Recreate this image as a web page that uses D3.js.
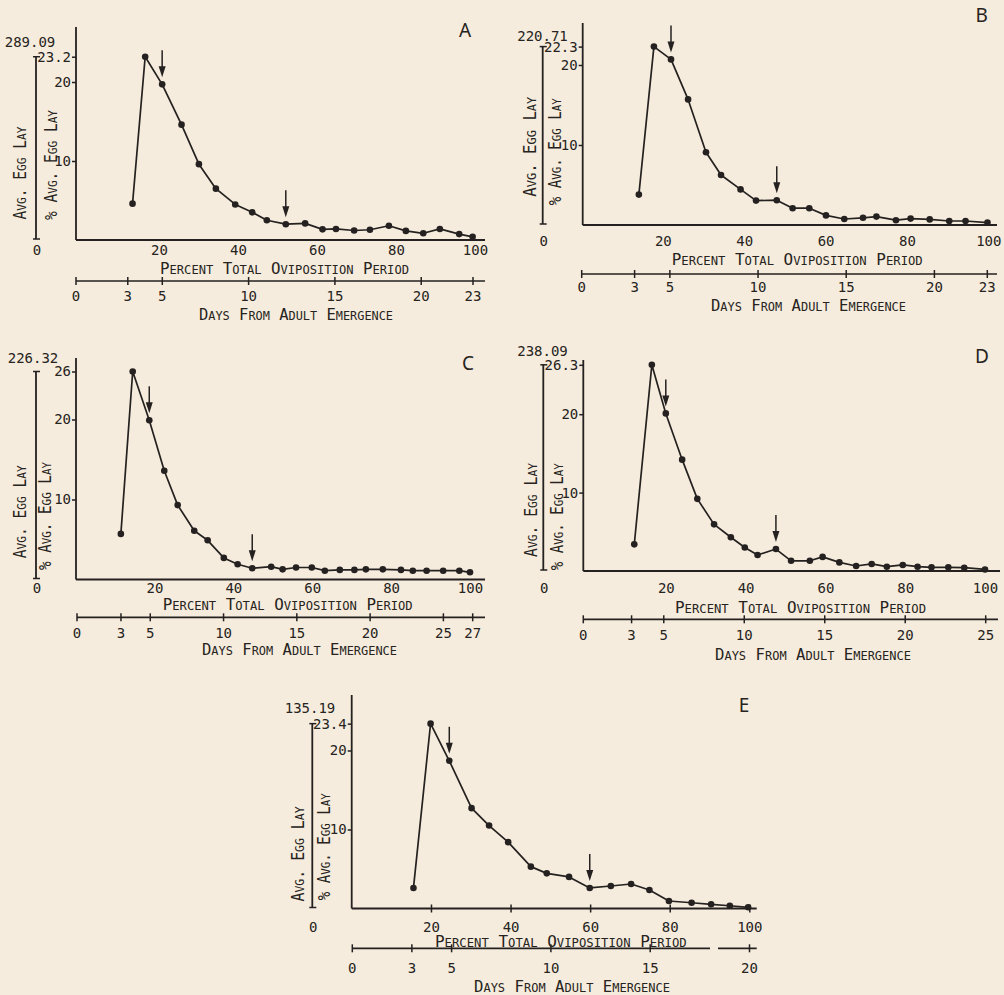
<!DOCTYPE html>
<html>
<head>
<meta charset="utf-8">
<script src="https://cdn.jsdelivr.net/npm/d3@7"></script>
<style>
body { margin: 0; background: #f5ecdd; }
svg { display: block; }
text { font-family: "DejaVu Sans Mono", monospace; fill: #262320; }
</style>
</head>
<body>
<script>
// values (percent of oviposition period, % avg egg lay)
const panelNames = ["A", "B", "C", "D", "E"];
const totals = [289.09, 220.71, 226.32, 238.09, 135.19];
const peaks = [23.2, 22.3, 26, 26.3, 23.4];
const dayMax = [23, 23, 27, 25, 20];

const pctA = [13.3,16.5,20.8,25.7,30.1,34.4,39.3,43.6,47.3,52.1,57.0,61.4,64.8,69.4,73.4,78.2,82.5,86.9,91.1,96.0,99.4];
const valA = [4.6,23.2,19.7,14.6,9.6,6.5,4.5,3.5,2.5,2.0,2.1,1.35,1.4,1.2,1.3,1.8,1.15,0.85,1.4,0.75,0.4];

const pctB = [14.1,17.8,22.0,26.2,30.6,34.3,39.1,42.9,48.0,51.9,56.0,60.1,64.6,69.2,72.5,77.3,80.9,85.6,90.4,94.4,99.8];
const valB = [3.8,22.3,20.7,15.7,9.1,6.25,4.45,3.05,3.1,2.1,2.1,1.2,0.75,0.9,1.05,0.6,0.8,0.7,0.5,0.5,0.3];

const pctC = [11.5,14.5,18.7,22.5,25.9,30.1,33.5,37.6,41.1,44.8,49.6,52.5,55.9,59.9,63.2,67.0,70.7,73.6,77.9,82.5,85.5,89.0,93.2,97.3,100];
const valC = [5.7,26,19.9,13.6,9.3,6.1,4.9,2.7,1.9,1.4,1.6,1.27,1.5,1.5,1.1,1.2,1.2,1.27,1.27,1.2,1.1,1.1,1.1,1.1,0.9];

const pctD = [12.1,16.5,20.0,24.1,27.9,32.1,36.3,39.8,43.0,47.6,51.4,56.1,59.3,63.5,67.7,71.6,75.4,79.4,83.1,86.6,90.8,94.8,100];
const valD = [3.4,26.3,20.1,14.2,9.2,5.95,4.3,3.0,2.04,2.8,1.3,1.3,1.8,1.1,0.64,0.9,0.55,0.77,0.55,0.47,0.47,0.42,0.2];

const pctE = [15.6,19.9,24.6,30.2,34.6,39.4,45.1,49.1,54.7,59.9,65.2,70.3,74.9,79.8,85.5,90.4,95.1,99.7];
const valE = [2.6,23.4,18.7,12.7,10.5,8.4,5.3,4.45,4.0,2.6,2.85,3.1,2.34,0.95,0.73,0.53,0.35,0.15];

const pcts = [pctA, pctB, pctC, pctD, pctE];
const vals = [valA, valB, valC, valD, valE];

// which points carry an arrow
const arrowIdx = [[2, 9], [2, 8], [2, 9], [2, 9], [2, 9]];

const pctTicks = [20, 40, 60, 80, 100];
const dayTicks = [
  [0, 3, 5, 10, 15, 20, 23],
  [0, 3, 5, 10, 15, 20, 23],
  [0, 3, 5, 10, 15, 20, 25, 27],
  [0, 3, 5, 10, 15, 20, 25],
  [0, 3, 5, 10, 15, 20]
];

// page placement of each panel
const layout = [
  {axisX: 76, x0: 80, x100: 475, xEnd: 485, y0: 240, ppu: 7.9, yTop: 27, leftX: 36,
   pctLab: 255, pctTitle: [160, 409, 274], daysY: 281, d0: 76, dMax: 473, dEnd: 485,
   dayLab: 301, daysTitle: [199, 393, 320], letter: [465, 37],
   rotA: [20, 173, 93], rotB: [51, 165, 110], totalLab: [30, 47]},
  {axisX: 582.7, x0: 581.5, x100: 988.3, xEnd: 997, y0: 225, ppu: 8, yTop: 23, leftX: 542.7,
   pctLab: 246, pctTitle: [671.7, 922.7, 265], daysY: 274, d0: 581.7, dMax: 987.3, dEnd: 997,
   dayLab: 291.7, daysTitle: [711, 906, 310.7], letter: [981.7, 21.7],
   rotA: [530, 146.7, 100], rotB: [555, 151.7, 107], totalLab: [542.5, 40.7]},
  {axisX: 76, x0: 75.5, x100: 470, xEnd: 485, y0: 579.5, ppu: 8, yTop: 358, leftX: 36,
   pctLab: 593, pctTitle: [162.7, 412.7, 610], daysY: 617.3, d0: 77, dMax: 472.7, dEnd: 485,
   dayLab: 638.3, daysTitle: [202, 397, 655], letter: [468, 370],
   rotA: [19.5, 511.7, 93], rotB: [45.3, 516, 108], totalLab: [33, 363.3]},
  {axisX: 583.3, x0: 586, x100: 985, xEnd: 1000, y0: 571, ppu: 7.84, yTop: 360, leftX: 543.3,
   pctLab: 593.3, pctTitle: [675, 926, 613.3], daysY: 619.3, d0: 583.3, dMax: 985.7, dEnd: 998,
   dayLab: 640, daysTitle: [715, 911, 660], letter: [982, 363.3],
   rotA: [530.7, 510, 94], rotB: [556.7, 516.7, 107], totalLab: [542.5, 356]},
  {axisX: 351.7, x0: 351.4, x100: 749.3, xEnd: 756.7, y0: 908.5, ppu: 7.9, yTop: 695, leftX: 312.3,
   pctLab: 931.7, pctTitle: [435, 686.7, 947.3], daysY: 948.3, d0: 352.3, dMax: 749.5, dEnd: 756.7,
   dayLab: 973.3, daysTitle: [474, 670, 991.5], letter: [744, 711.7],
   rotA: [298.3, 854, 95], rotB: [324, 846.7, 107], totalLab: [310, 712.7],
   pctTickMarks: true, daysBreak: [710, 718]}
];

const ink = "#242120";

const svg = d3.select("body").append("svg")
  .attr("width", 1004)
  .attr("height", 995);

svg.append("rect")
  .attr("width", 1004)
  .attr("height", 995)
  .attr("fill", "#f5ecdd");

// small caps by hand: first letter of each word full size, the rest smaller
function smallCaps(text, str, big, small) {
  let runs = [];
  let prev = " ";
  for (const ch of str) {
    const isBig = !/[a-z]/.test(ch) || prev === " ";
    const size = isBig ? big : small;
    if (runs.length && runs[runs.length - 1].size === size) runs[runs.length - 1].s += ch.toUpperCase();
    else runs.push({size: size, s: ch.toUpperCase()});
    prev = ch;
  }
  text.selectAll("tspan")
    .data(runs)
    .enter()
    .append("tspan")
    .style("font-size", d => d.size + "px")
    .text(d => d.s);
  return text;
}

panelNames.forEach((name, i) => {
  const L = layout[i];
  const g = svg.append("g");
  const peak = peaks[i];

  const x = d3.scaleLinear().domain([0, 100]).range([L.x0, L.x100]);
  const y = d3.scaleLinear().domain([0, peak]).range([L.y0, L.y0 - L.ppu * peak]);
  const days = d3.scaleLinear().domain([0, dayMax[i]]).range([L.d0, L.dMax]);

  // % avg egg lay axis
  const yAxis = g.append("g")
    .attr("transform", `translate(${L.axisX},0)`)
    .call(d3.axisLeft(y).tickValues([10, 20, peak]).tickSize(4).tickPadding(1).tickFormat(d => d));
  yAxis.select(".domain").remove();
  yAxis.selectAll("line").attr("stroke", ink).attr("stroke-width", 1.5);
  yAxis.selectAll("text")
    .style("font-family", "DejaVu Sans Mono")
    .style("font-size", "14px")
    .attr("fill", ink);

  g.append("line")
    .attr("x1", L.axisX).attr("x2", L.axisX)
    .attr("y1", L.yTop).attr("y2", L.y0)
    .attr("stroke", ink).attr("stroke-width", 1.8);

  // percent axis
  g.append("line")
    .attr("x1", L.axisX).attr("x2", L.xEnd)
    .attr("y1", L.y0).attr("y2", L.y0)
    .attr("stroke", ink).attr("stroke-width", 1.8);

  const xAxis = g.append("g")
    .attr("transform", `translate(0,${L.y0})`)
    .call(d3.axisBottom(x).tickValues(pctTicks).tickSize(0));
  xAxis.select(".domain").remove();
  xAxis.selectAll("line")
    .attr("y1", L.pctTickMarks ? -4 : 0)
    .attr("y2", L.pctTickMarks ? 4 : 0)
    .attr("stroke", ink).attr("stroke-width", 1.5);
  xAxis.selectAll("text")
    .attr("y", L.pctLab - L.y0)
    .attr("dy", null)
    .style("font-family", "DejaVu Sans Mono")
    .style("font-size", "14px")
    .attr("fill", ink);

  smallCaps(g.append("text")
    .attr("x", L.pctTitle[0])
    .attr("y", L.pctTitle[2])
    .attr("textLength", L.pctTitle[1] - L.pctTitle[0])
    .attr("lengthAdjust", "spacingAndGlyphs"),
    "Percent Total Oviposition Period", 15, 11.5);

  // days axis
  const segs = L.daysBreak ? [[L.d0, L.daysBreak[0]], [L.daysBreak[1], L.dEnd]] : [[L.d0, L.dEnd]];
  g.selectAll(".dayline")
    .data(segs)
    .enter()
    .append("line")
    .attr("x1", d => d[0]).attr("x2", d => d[1])
    .attr("y1", L.daysY).attr("y2", L.daysY)
    .attr("stroke", ink).attr("stroke-width", 1.7);

  g.selectAll(".daytick")
    .data(dayTicks[i])
    .enter()
    .append("line")
    .attr("x1", d => days(d)).attr("x2", d => days(d))
    .attr("y1", L.daysY - 4).attr("y2", L.daysY + 4)
    .attr("stroke", ink).attr("stroke-width", 1.5);

  g.selectAll(".daylab")
    .data(dayTicks[i])
    .enter()
    .append("text")
    .attr("x", d => days(d))
    .attr("y", L.dayLab)
    .attr("text-anchor", "middle")
    .style("font-size", "14px")
    .text(d => d);

  smallCaps(g.append("text")
    .attr("x", L.daysTitle[0])
    .attr("y", L.daysTitle[2])
    .attr("textLength", L.daysTitle[1] - L.daysTitle[0])
    .attr("lengthAdjust", "spacingAndGlyphs"),
    "Days From Adult Emergence", 15, 11.5);

  // avg egg lay axis, same height as the peak
  const yl = L.leftX;
  g.append("line")
    .attr("x1", yl).attr("x2", yl)
    .attr("y1", y(peak)).attr("y2", L.y0 - 1)
    .attr("stroke", ink).attr("stroke-width", 1.8);
  g.selectAll(".cap")
    .data([peak, 0])
    .enter()
    .append("line")
    .attr("x1", yl - 3).attr("x2", yl + 4)
    .attr("y1", d => d ? y(d) : L.y0 - 1)
    .attr("y2", d => d ? y(d) : L.y0 - 1)
    .attr("stroke", ink).attr("stroke-width", 1.5);

  g.append("text")
    .attr("x", L.totalLab[0])
    .attr("y", L.totalLab[1])
    .attr("text-anchor", "middle")
    .style("font-size", "14px")
    .text(totals[i].toFixed(2));

  g.append("text")
    .attr("x", yl + 1)
    .attr("y", L.pctLab)
    .attr("text-anchor", "middle")
    .style("font-size", "14px")
    .text("0");

  // rotated axis titles
  smallCaps(g.append("text")
    .attr("transform", `translate(${L.rotA[0] + 6},${L.rotA[1]}) rotate(-90)`)
    .attr("text-anchor", "middle")
    .attr("textLength", L.rotA[2])
    .attr("lengthAdjust", "spacingAndGlyphs"),
    "Avg. Egg Lay", 17, 13);

  smallCaps(g.append("text")
    .attr("transform", `translate(${L.rotB[0] + 6},${L.rotB[1]}) rotate(-90)`)
    .attr("text-anchor", "middle")
    .attr("textLength", L.rotB[2])
    .attr("lengthAdjust", "spacingAndGlyphs"),
    "% Avg. Egg Lay", 17, 13);

  // panel letter
  g.append("text")
    .attr("x", L.letter[0])
    .attr("y", L.letter[1])
    .attr("text-anchor", "middle")
    .style("font-family", "'Noto Sans', sans-serif")
    .style("font-size", "19px")
    .text(name);

  // the curve
  const pts = pcts[i].map((p, k) => ({p: p, v: vals[i][k]}));

  g.append("path")
    .datum(pts)
    .attr("fill", "none")
    .attr("stroke", ink)
    .attr("stroke-width", 1.7)
    .attr("stroke-linejoin", "round")
    .attr("d", d3.line().x(d => x(d.p)).y(d => y(d.v)));

  g.selectAll(".dot")
    .data(pts)
    .enter()
    .append("circle")
    .attr("cx", d => x(d.p))
    .attr("cy", d => y(d.v))
    .attr("r", 3.3)
    .attr("fill", ink);

  // arrows
  arrowIdx[i].forEach(k => {
    const ax = x(pts[k].p);
    const tip = y(pts[k].v) - 7;
    g.append("line")
      .attr("x1", ax).attr("x2", ax)
      .attr("y1", tip - 27).attr("y2", tip - 6)
      .attr("stroke", ink).attr("stroke-width", 1.5);
    g.append("path")
      .attr("d", `M${ax - 3.5},${tip - 11}L${ax + 3.5},${tip - 11}L${ax},${tip}Z`)
      .attr("fill", ink);
  });
});
</script>
</body>
</html>
